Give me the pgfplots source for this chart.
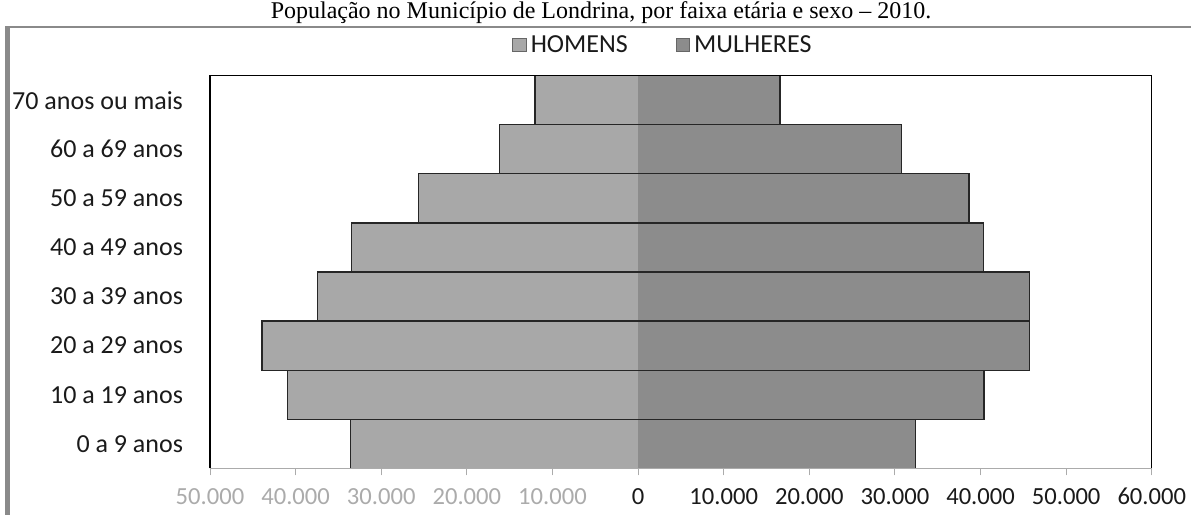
\documentclass[border=0pt]{standalone}
\usepackage{fontspec}
\setmainfont{Carlito}
\newfontfamily\titlefont{Liberation Serif}
\usepackage{pgfplots}
\usepackage{pgfplotstable}
\pgfplotsset{compat=1.18}
\definecolor{homens}{HTML}{A8A8A8}
\definecolor{mulheres}{HTML}{8C8C8C}
\definecolor{negtick}{HTML}{ABABAB}
\definecolor{framegray}{HTML}{8A8A8A}
\definecolor{labelc}{HTML}{1A1A1A}

% y = age group index, h = homens (negative side), m = mulheres
\pgfplotstableread{
y  h       m
0  -33560  32390
1  -40950  40400
2  -43930  45760
3  -37430  45760
4  -33450  40330
5  -25640  38650
6  -16180  30750
7  -12040  16570
}\pyramid

\begin{document}
\begin{tikzpicture}
\path[use as bounding box] (0,0) rectangle (595.5bp,257.5bp);
% outer frame (left and top) and the title
\fill[framegray] (2.5bp,0) rectangle (5bp,244.6bp);
\fill[framegray] (2.5bp,243.3bp) rectangle (595.5bp,244.6bp);
\node[font=\titlefont\fontsize{12bp}{14bp}\selectfont, anchor=base, inner sep=0pt, text=black]
  at (300.5bp,248.3bp) {População no Município de Londrina, por faixa etária e sexo – 2010.};
\begin{axis}[
  at={(105bp,23.35bp)}, anchor=south west,
  scale only axis, width=470.9bp, height=196.3bp,
  xmin=-50000, xmax=60000, ymin=-0.5, ymax=7.5,
  clip=false,
  axis line style={draw=none},
  xtick={-50000,-40000,-30000,-20000,-10000,0,10000,20000,30000,40000,50000,60000},
  xticklabels={\textcolor{negtick}{50.000},\textcolor{negtick}{40.000},\textcolor{negtick}{30.000},\textcolor{negtick}{20.000},\textcolor{negtick}{10.000},0,10.000,20.000,30.000,40.000,50.000,60.000},
  scaled x ticks=false,
  ytick={0,1,2,3,4,5,6,7},
  yticklabels={0 a 9 anos,10 a 19 anos,20 a 29 anos,30 a 39 anos,40 a 49 anos,50 a 59 anos,60 a 69 anos,70 anos ou mais},
  xtick pos=bottom, ytick pos=left,
  tick align=outside,
  x tick style={draw=negtick, line width=0.5bp},
  y tick style={draw=none},
  major tick length=3.5bp,
  xticklabel style={font=\fontsize{12.3bp}{14bp}\selectfont, text=labelc, yshift=-3bp},
  yticklabel style={font=\fontsize{13bp}{15bp}\selectfont, text=labelc, xshift=-6.5bp},
  legend columns=2,
  legend style={at={(axis description cs:0.482,1.078)}, anchor=center, draw=none, fill=none,
    font=\fontsize{13bp}{15bp}\selectfont, text=labelc,
    /tikz/every even column/.append style={column sep=22bp}},
  legend image code/.code={\draw[#1, draw=black!60, line width=0.4bp] (0bp,-3.4bp) rectangle (6.8bp,3.4bp);},
  outline/.style={draw=black!85, line width=0.6bp, line cap=rect, forget plot, mark=none},
  endcap/.style={draw=none, mark=none, forget plot,
    error bars/.cd, y dir=both, y fixed=0.5, error mark=none,
    error bar style={draw=black!85, line width=0.6bp, line cap=rect}},
]
% filled bars
\addplot[xbar, bar width=1, bar shift=0, fill=homens, draw=none] table[x=h, y=y] {\pyramid};
\addlegendentry{HOMENS}
\addplot[xbar, bar width=1, bar shift=0, fill=mulheres, draw=none] table[x=m, y=y] {\pyramid};
\addlegendentry{MULHERES}
% bar outlines (top/bottom edges and outer ends, none along the zero line)
\addplot[xcomb, outline] table[x=h, y expr=\thisrow{y}+0.5] {\pyramid};
\addplot[xcomb, outline] table[x=h, y expr=\thisrow{y}-0.5] {\pyramid};
\addplot[xcomb, outline] table[x=m, y expr=\thisrow{y}+0.5] {\pyramid};
\addplot[xcomb, outline] table[x=m, y expr=\thisrow{y}-0.5] {\pyramid};
\addplot[endcap] table[x=h, y=y] {\pyramid};
\addplot[endcap] table[x=m, y=y] {\pyramid};
\draw[negtick, line width=0.5bp] (rel axis cs:0,0) -- (rel axis cs:1,0);
\draw[black, line width=0.6bp] (rel axis cs:0,0) -- (rel axis cs:0,1) -- (rel axis cs:1,1) -- (rel axis cs:1,0);
\end{axis}
\end{tikzpicture}
\end{document}
